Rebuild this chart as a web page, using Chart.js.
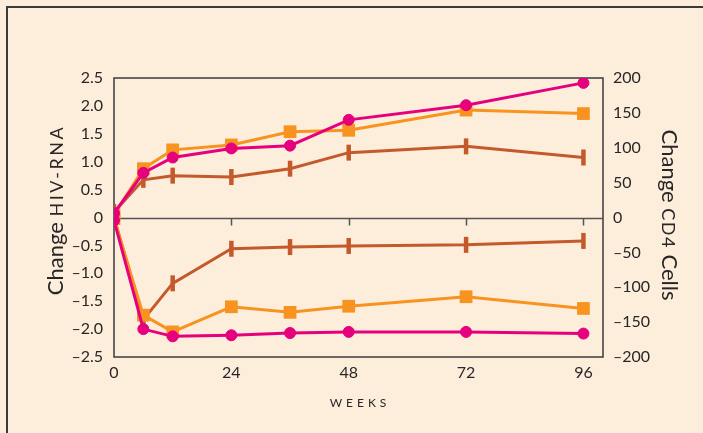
<!DOCTYPE html>
<html>
<head>
<meta charset="utf-8">
<script src="https://cdn.jsdelivr.net/npm/chart.js@4.4.1/dist/chart.umd.min.js"></script>
<style>
  html, body { margin: 0; padding: 0; background: #fdeedc; }
  #wrap { width: 703px; height: 433px; position: relative; }
</style>
</head>
<body>
<div id="wrap"><canvas id="c" width="703" height="433"></canvas></div>
<script>
// Study weeks and x-axis tick labels
const weeks = [0, 6, 12, 24, 36, 48, 72, 96];
const weekTicks = [0, 24, 48, 72, 96];

// Change in CD4 cells (right axis)
const cd4Magenta = [6, 64, 86, 99, 103, 140, 161, 193];
const cd4Orange  = [4, 70, 97, 104, 123, 125, 154, 149];
const cd4Rust    = [8, 54, 60, 58, 70, 93, 102, 86];

// Change in HIV-RNA, log10 copies/mL (left axis)
const rnaMagenta = [-0.05, -2.0, -2.13, -2.11, -2.07, -2.05, -2.05, -2.08];
const rnaOrange  = [-0.02, -1.75, -2.05, -1.6, -1.7, -1.59, -1.42, -1.63];
const rnaRust    = [0, -1.83, -1.18, -0.56, -0.53, -0.51, -0.49, -0.42];

// Axis tick values
const rnaTicks = [-2.5, -2.0, -1.5, -1.0, -0.5, 0, 0.5, 1.0, 1.5, 2.0, 2.5];
const cd4Ticks = [-200, -150, -100, -50, 0, 50, 100, 150, 200];

const MAGENTA = '#e6007e';
const ORANGE = '#f7931e';
const RUST = '#c45a2c';
const INK = '#2a2627';
const FRAME = '#3c3a3a';
const BG = '#fdeedc';
const FONT = 'Lato, "Open Sans", sans-serif';

const pts = arr => weeks.map((w, i) => ({ x: w, y: arr[i] }));

function series(data, color, axis, kind) {
  const ds = {
    data: pts(data),
    yAxisID: axis,
    borderColor: color,
    backgroundColor: color,
    borderWidth: 3,
    tension: 0,
    pointBackgroundColor: color,
    pointBorderColor: color,
  };
  if (kind === 'circle') {
    Object.assign(ds, { pointStyle: 'circle', pointRadius: 5.5, pointBorderWidth: 1 });
  } else if (kind === 'rect') {
    Object.assign(ds, { pointStyle: 'rect', pointRadius: 9, pointBorderWidth: 0 });
  } else {
    Object.assign(ds, { pointStyle: 'line', pointRotation: 90, pointRadius: 8, pointBorderWidth: 4.5 });
  }
  return ds;
}

const minus = s => s.replace('-', '\u2013');

// Draws a rotated title made of runs in different sizes (small caps runs are letter-spaced)
function drawMixed(ctx, parts, cx, cy, rot) {
  ctx.save();
  ctx.translate(cx, cy);
  ctx.rotate(rot);
  let total = 0;
  parts.forEach(p => {
    ctx.font = p.font;
    ctx.letterSpacing = (p.spacing || 0) + 'px';
    p.w = ctx.measureText(p.text).width;
    total += p.w;
  });
  let x = -total / 2;
  ctx.fillStyle = INK;
  ctx.textBaseline = 'alphabetic';
  ctx.textAlign = 'left';
  parts.forEach(p => {
    ctx.font = p.font;
    ctx.letterSpacing = (p.spacing || 0) + 'px';
    ctx.fillText(p.text, x, 0);
    x += p.w;
  });
  ctx.restore();
}

const decor = {
  id: 'decor',
  beforeDraw(chart) {
    const ctx = chart.ctx;
    ctx.save();
    ctx.fillStyle = BG;
    ctx.fillRect(0, 0, chart.width, chart.height);
    ctx.strokeStyle = FRAME;
    ctx.lineWidth = 2;
    ctx.beginPath();
    ctx.moveTo(7, chart.height);
    ctx.lineTo(7, 7);
    ctx.lineTo(chart.width, 7);
    ctx.stroke();
    ctx.restore();
  },
  beforeDatasetsDraw(chart) {
    const ctx = chart.ctx;
    const a = chart.chartArea;
    const xs = chart.scales.x;
    const y0 = Math.round(chart.scales.y.getPixelForValue(0)) + 0.5;
    ctx.save();
    ctx.strokeStyle = FRAME;
    ctx.lineWidth = 1.5;
    ctx.strokeRect(a.left, a.top, a.right - a.left, a.bottom - a.top);
    ctx.strokeStyle = '#555';
    ctx.beginPath();
    ctx.moveTo(a.left, y0);
    ctx.lineTo(a.right, y0);
    weekTicks.forEach(w => {
      if (w === 0) return;
      const px = Math.round(xs.getPixelForValue(w)) + 0.5;
      ctx.moveTo(px, y0);
      ctx.lineTo(px, y0 + 7);
    });
    ctx.stroke();
    ctx.restore();
  },
  afterDraw(chart) {
    const ctx = chart.ctx;
    drawMixed(ctx, [
      { text: 'Change ', font: '22px ' + FONT },
      { text: 'HIV-RNA', font: '18px ' + FONT, spacing: 2.5 }
    ], 63, 210, -Math.PI / 2);
    drawMixed(ctx, [
      { text: 'Change ', font: '22px ' + FONT },
      { text: 'CD4', font: '18px ' + FONT, spacing: 1.5 },
      { text: ' Cells', font: '22px ' + FONT }
    ], 662, 215, Math.PI / 2);
    ctx.save();
    ctx.font = '12px ' + FONT;
    ctx.fillStyle = INK;
    ctx.textAlign = 'center';
    ctx.textBaseline = 'alphabetic';
    ctx.letterSpacing = '4px';
    ctx.fillText('WEEKS', 360, 407);
    ctx.restore();
  }
};

new Chart(document.getElementById('c'), {
  type: 'line',
  data: {
    datasets: [
      series(cd4Magenta, MAGENTA, 'y2', 'circle'),
      series(rnaMagenta, MAGENTA, 'y', 'circle'),
      series(cd4Orange, ORANGE, 'y2', 'rect'),
      series(rnaOrange, ORANGE, 'y', 'rect'),
      series(cd4Rust, RUST, 'y2', 'line'),
      series(rnaRust, RUST, 'y', 'line')
    ]
  },
  options: {
    responsive: false,
    animation: false,
    layout: { padding: { top: 78, left: 0, right: 0, bottom: 0 } },
    plugins: { legend: { display: false }, tooltip: { enabled: false } },
    scales: {
      x: {
        type: 'linear',
        min: 0,
        max: 100,
        afterBuildTicks: s => { s.ticks = weekTicks.map(v => ({ value: v })); },
        afterFit: s => { s.height = 76; },
        grid: { display: false, drawTicks: false },
        border: { display: false },
        ticks: { color: INK, font: { family: FONT, size: 16 }, padding: 6, maxRotation: 0, autoSkip: false }
      },
      y: {
        position: 'left',
        min: -2.5,
        max: 2.5,
        afterBuildTicks: s => { s.ticks = rnaTicks.map(v => ({ value: v })); },
        afterFit: s => { s.width = 114; },
        grid: { display: false, drawTicks: false },
        border: { display: false },
        ticks: {
          color: INK, font: { family: FONT, size: 16 }, padding: 11,
          callback: v => v === 0 ? '0' : minus(Number(v).toFixed(1))
        }
      },
      y2: {
        position: 'right',
        min: -200,
        max: 200,
        afterBuildTicks: s => { s.ticks = cd4Ticks.map(v => ({ value: v })); },
        afterFit: s => { s.width = 100; },
        grid: { display: false, drawTicks: false },
        border: { display: false },
        ticks: {
          color: INK, font: { family: FONT, size: 16 }, padding: 10,
          callback: v => minus(String(v))
        }
      }
    }
  },
  plugins: [decor]
});
</script>
</body>
</html>
